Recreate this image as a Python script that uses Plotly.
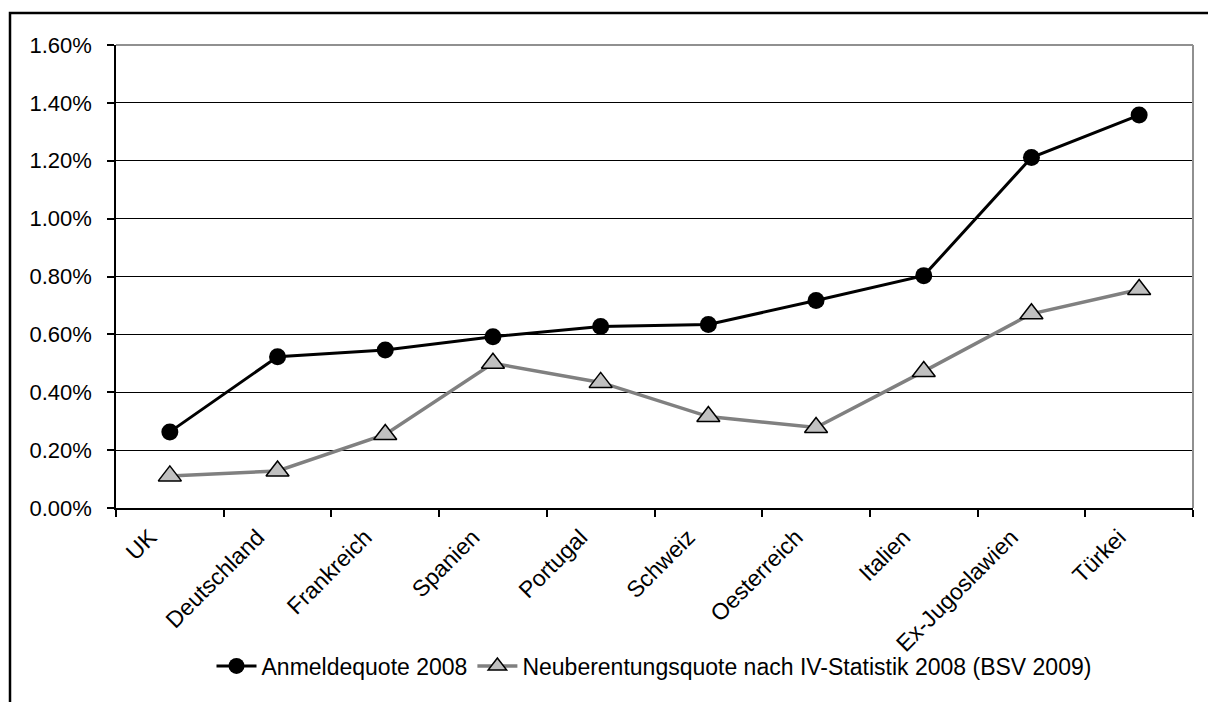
import plotly.graph_objects as go

categories = ["UK", "Deutschland", "Frankreich", "Spanien", "Portugal", "Schweiz",
              "Oesterreich", "Italien", "Ex-Jugoslawien", "Türkei"]
anmeldequote = [0.263, 0.523, 0.546, 0.592, 0.627, 0.634, 0.717, 0.803, 1.211, 1.358]
neuberentung = [0.111, 0.128, 0.254, 0.500, 0.434, 0.316, 0.278, 0.472, 0.671, 0.755]
y_ticks = [0.0, 0.2, 0.4, 0.6, 0.8, 1.0, 1.2, 1.4, 1.6]
y_ticklabels = ["%.2f%%" % v for v in y_ticks]

W, H = 1208, 702
L, R, T, B = 116, 15, 45, 194
pw, ph = W - L - R, H - T - B

def px(x):
    return (x - L) / pw

def py(y):
    return (H - B - y) / ph

FONT = "Arial, Liberation Sans, sans-serif"

fig = go.Figure()
fig.add_trace(go.Scatter(
    x=categories, y=anmeldequote, mode="lines+markers",
    name="Anmeldequote 2008",
    line=dict(color="black", width=3),
    marker=dict(symbol="circle", size=17, color="black"),
))
fig.add_trace(go.Scatter(
    x=categories, y=neuberentung, mode="lines+markers",
    name="Neuberentungsquote nach IV-Statistik 2008 (BSV 2009)",
    line=dict(color="#808080", width=3.5),
    marker=dict(symbol="triangle-up", size=20, color="#c0c0c0",
                line=dict(color="black", width=1.5)),
))

fig.update_layout(
    width=W, height=H,
    margin=dict(l=L, r=R, t=T, b=B),
    paper_bgcolor="white", plot_bgcolor="white",
    font=dict(family=FONT, size=22, color="black"),
    showlegend=True,
    legend=dict(orientation="h", x=px(654), xanchor="center", y=py(666), yanchor="middle",
                font=dict(size=23), itemwidth=40, bgcolor="rgba(0,0,0,0)"),
    xaxis=dict(
        type="category", range=[-0.5, 9.5],
        showline=True, linecolor="black", linewidth=1.5,
        ticks="outside", ticklen=7, tickcolor="black", tickwidth=1.5,
        tickson="boundaries", tickangle=-45, showgrid=False,
        tickfont=dict(size=23), ticklabelshift=-20, ticklabelstandoff=5,
    ),
    yaxis=dict(
        range=[0, 1.6], tickvals=y_ticks, ticktext=y_ticklabels,
        showline=True, linecolor="black", linewidth=1.5,
        ticks="outside", ticklen=7, tickcolor="black", tickwidth=1.5,
        showgrid=True, gridcolor="black", gridwidth=1, zeroline=False,
        tickfont=dict(size=22), ticklabelstandoff=11,
    ),
    shapes=[
        dict(type="line", xref="paper", yref="paper", x0=0, x1=1, y0=1, y1=1,
             line=dict(color="#909090", width=2)),
        dict(type="line", xref="paper", yref="paper", x0=1, x1=1, y0=0, y1=1,
             line=dict(color="#909090", width=2)),
        dict(type="rect", xref="paper", yref="paper",
             x0=px(10), x1=px(1215), y0=py(712), y1=py(13),
             line=dict(color="black", width=2.5), fillcolor="rgba(0,0,0,0)"),
    ],
)

fig.write_html("out.html")
